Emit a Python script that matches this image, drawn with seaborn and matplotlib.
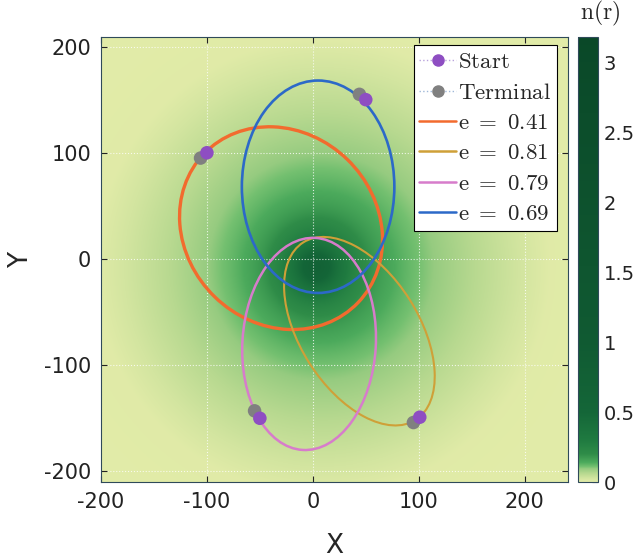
import numpy as np
import pandas as pd
import seaborn as sns
import matplotlib
matplotlib.use('Agg')
import matplotlib.pyplot as plt
from matplotlib.colors import LinearSegmentedColormap
from matplotlib.patches import Ellipse
from matplotlib.lines import Line2D

# orbits (centre, semi axes, tilt of major axis)
ecc = [0.41, 0.81, 0.79, 0.69]
orbit_colors = ['#f26b2e', '#cfa038', '#d77ccb', '#2c69c8']
centre_x = [-30, 44, -3.5, 5]
centre_y = [29, -68, -80, 68]
semi_major = [101, 99, 100, 100]
semi_minor = [90, 56, 63, 72]
tilt_deg = [136, 122.5, 86.5, 90]
line_w = [2.4, 1.5, 1.8, 1.9]

# start / terminal points
start_x = [-100, 101, -50, 50]
start_y = [100, -149, -150, 150]
term_x = [-106, 95, -55, 44]
term_y = [95, -154, -143, 155]

# colour bar
cbar_ticks = [0, 0.5, 1, 1.5, 2, 2.5, 3]
cbar_labels = ['0', '0.5', '1', '1.5', '2', '2.5', '3']
n_max = 3.18
cmap_vals = [0, 0.025, 0.06, 0.095, 0.11, 0.14, 0.2, 0.3, 0.5, 1.0, 3.18]
cmap_cols = ['#e3eca9', '#d3e5a0', '#b8d990', '#96cb80', '#74c070', '#4caa5c',
             '#2f8c48', '#1f7a40', '#146638', '#105a32', '#0a4828']

xticks = [-200, -100, 0, 100, 200]
yticks = [-200, -100, 0, 100, 200]

sns.set_style('ticks')
plt.rcParams['font.family'] = ['DejaVu Sans']
plt.rcParams['mathtext.fontset'] = 'cm'
plt.rcParams['axes.unicode_minus'] = False

# density field n(r): truncated halo plus a cored central cusp
gx = np.linspace(-200, 241, 882)
gy = np.linspace(-210, 209, 838)
X, Y = np.meshgrid(gx, gy)
r_halo = np.hypot(X - 10, Y + 8)
r_core = np.hypot(X - 3, Y + 8)
halo = 0.155 * np.clip(1 - r_halo / 215, 0, None)
core = 0.5 / (1 + (r_core / 20) ** 2)
n_r = halo + core

cmap = LinearSegmentedColormap.from_list(
    'nr', list(zip(np.array(cmap_vals) / n_max, cmap_cols)), N=8192)

fig = plt.figure(figsize=(6.37, 5.58), dpi=100)
ax = fig.add_axes([0.1586, 0.1362, 0.7331, 0.7975])
im = ax.imshow(n_r, extent=(-200, 241, -210, 209), origin='lower', cmap=cmap,
               vmin=0, vmax=n_max, aspect='auto', interpolation='bilinear')

for i in range(len(ecc)):
    ax.add_patch(Ellipse((centre_x[i], centre_y[i]), 2 * semi_major[i], 2 * semi_minor[i],
                         angle=tilt_deg[i], fill=False, edgecolor=orbit_colors[i],
                         linewidth=line_w[i], zorder=3))

pts = pd.DataFrame({'x': term_x + start_x, 'y': term_y + start_y,
                    'kind': ['Terminal'] * 4 + ['Start'] * 4})
sns.scatterplot(data=pts, x='x', y='y', hue='kind', palette={'Terminal': '#808080', 'Start': '#8e4ec2'},
                s=95, edgecolor='none', legend=False, ax=ax, zorder=4)

ax.set_xlim(-200, 241)
ax.set_ylim(-210, 209)
ax.set_xticks(xticks)
ax.set_yticks(yticks)
ax.grid(True, color='white', linestyle=':', linewidth=0.8, alpha=0.8)
ax.tick_params(direction='in', top=True, right=True, length=4, width=0.8,
               labelsize=15, colors='#222222', pad=7)
for sp in ax.spines.values():
    sp.set_color('#2f4a5a')
    sp.set_linewidth(0.8)
ax.set_xlabel('X', fontsize=19, labelpad=15)
ax.set_ylabel('Y', fontsize=19, labelpad=7)

handles = [Line2D([0], [0], color='#b9a3dc', ls=':', lw=1, marker='o', ms=8,
                  mfc='#8e4ec2', mec='#8e4ec2'),
           Line2D([0], [0], color='#9fb8d8', ls=':', lw=1, marker='o', ms=8,
                  mfc='#808080', mec='#808080')]
handles += [Line2D([0], [0], color=c, lw=1.8) for c in orbit_colors]
labels = [r'$\mathrm{Start}$', r'$\mathrm{Terminal}$'] + [r'$\mathrm{e}\ =\ %.2f$' % e for e in ecc]
leg = ax.legend(handles, labels, loc='upper right', bbox_to_anchor=(0.977, 0.983),
                borderaxespad=0, fontsize=16.5, frameon=True, fancybox=False,
                framealpha=1, edgecolor='black', borderpad=0.25, labelspacing=0.32,
                handlelength=1.6, handletextpad=0.1)
leg.get_frame().set_linewidth(0.8)
leg.set_zorder(10)

cax = fig.add_axes([0.9074, 0.1362, 0.0314, 0.7975])
cb = fig.colorbar(im, cax=cax, ticks=cbar_ticks)
cb.ax.set_yticklabels(cbar_labels)
cb.ax.tick_params(direction='in', length=4, width=0.8, labelsize=14, colors='#222222', pad=4)
cb.outline.set_edgecolor('#2f4a5a')
cb.outline.set_linewidth(0.8)
fig.text(0.943, 0.975, r'$\mathrm{n(r)}$', fontsize=17, ha='center', va='center')

fig.savefig('out.png', dpi=100)
